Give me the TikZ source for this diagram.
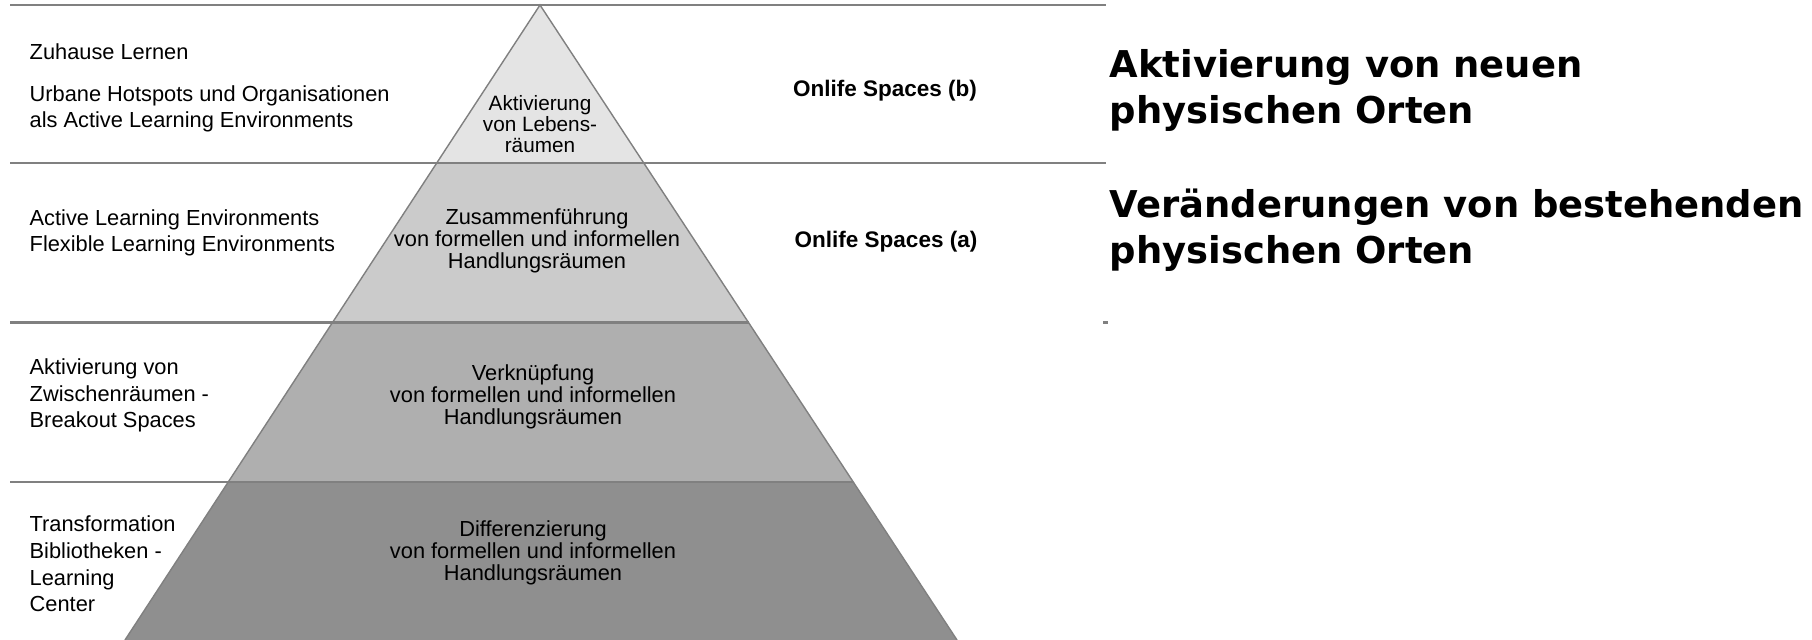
\documentclass[tikz,border=0pt]{standalone}
\usepackage{fontspec}
\setmainfont{Liberation Sans}
\newfontfamily\headfont{DejaVu Sans}
\definecolor{rule}{HTML}{808080}
\definecolor{band1}{HTML}{E4E4E4}
\definecolor{band2}{HTML}{CBCBCB}
\definecolor{band3}{HTML}{AFAFAF}
\definecolor{band4}{HTML}{8F8F8F}
\begin{document}
\begin{tikzpicture}[x=0.01cm, y=-0.01cm,
  sidetext/.style={anchor=west, align=left, inner sep=0pt, font=\fontsize{6.2}{7.55}\selectfont},
  pyrtext/.style={align=center, inner sep=0pt, font=\fontsize{6.2}{6.3}\selectfont},
  spacetext/.style={inner sep=0pt, font=\bfseries\fontsize{6.4}{7.6}\selectfont},
  headtext/.style={anchor=west, align=left, inner sep=0pt, font=\headfont\bfseries\fontsize{10.5}{13.1}\selectfont},
  divider/.style={draw=rule, line width=0.6pt}]
\useasboundingbox (0,0) rectangle (1812,640);

\coordinate (apex) at (540,5);
\coordinate (base left) at (125,640);
\coordinate (base right) at (957,640);

% bands of the pyramid
\begin{scope}
\clip (apex) -- (base left) -- (base right) -- cycle;
\fill[band1] (0,0) rectangle (1000,163);
\fill[band2] (0,163) rectangle (1000,322.5);
\fill[band3] (0,322.5) rectangle (1000,482);
\fill[band4] (0,482) rectangle (1000,640);
\end{scope}
\draw[rule, line width=0.4pt] (base left) -- (apex) -- (base right);

\draw[divider] (10,5) -- (1106,5);
\draw[divider] (10,163) -- (1106,163);
\draw[divider] (10,322.5) -- (748.5,322.5);
\draw[divider] (1103,322.5) -- (1108,322.5);
\draw[divider] (10,482) -- (853,482);

% left column
\node[sidetext] (zuhause) at (29,52) {Zuhause Lernen};
\node[sidetext] (urbane) at (29,109) {Urbane Hotspots und Organisationen\\als Active Learning Environments};
\node[sidetext] (active) at (29,233) {Active Learning Environments\\Flexible Learning Environments};
\node[sidetext] (zwischen) at (29,395.5) {Aktivierung von\\Zwischenräumen -\\Breakout Spaces};
\node[sidetext] (transform) at (29,564) {Transformation\\Bibliotheken -\\Learning\\Center};

% inside the pyramid
\node[pyrtext, font=\fontsize{5.9}{5.9}\selectfont] (lebens) at (540,124) {Aktivierung\\von Lebens-\\räumen};
\node[pyrtext] (zusammen) at (537,241) {Zusammenführung\\von formellen und informellen\\Handlungsräumen};
\node[pyrtext] (verkn) at (533,397) {Verknüpfung\\von formellen und informellen\\Handlungsräumen};
\node[pyrtext] (diff) at (533,553) {Differenzierung\\von formellen und informellen\\Handlungsräumen};

% right of the pyramid
\node[spacetext] (onlife b) at (885,91) {Onlife Spaces (b)};
\node[spacetext] (onlife a) at (886,242) {Onlife Spaces (a)};

\node[headtext] (neue orte) at (1109,90.5) {Aktivierung von neuen\\physischen Orten};
\node[headtext] (alte orte) at (1109,230.5) {Veränderungen von bestehenden\\physischen Orten};
\end{tikzpicture}
\end{document}
